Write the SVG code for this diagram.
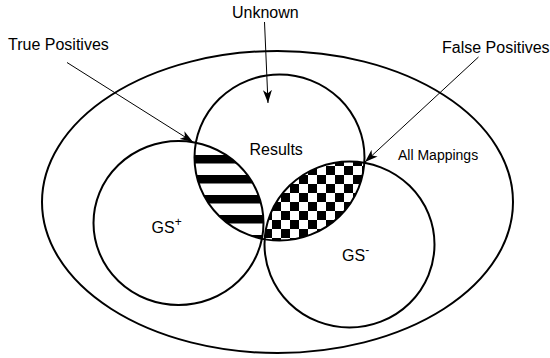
<svg xmlns="http://www.w3.org/2000/svg" width="550" height="358" viewBox="0 0 550 358">
<style>
.set{fill:none;stroke:#000;stroke-width:2}
.lbl{font-family:"Liberation Sans",Arial,sans-serif;font-size:16px;fill:#000}
.sm{font-size:14px}
.conn{stroke:#000;stroke-width:1;fill:none;marker-end:url(#arr)}
</style>
<defs>
<marker id="arr" markerUnits="userSpaceOnUse" markerWidth="14" markerHeight="10" refX="13" refY="5" orient="auto">
<path d="M0,0.5 L13,5 L0,9.5 L3.5,5 Z" fill="#000"/>
</marker>
<pattern id="stripes" patternUnits="userSpaceOnUse" x="0" y="155" width="20" height="20">
<rect x="0" y="0" width="20" height="8.5" fill="#000"/>
</pattern>
<pattern id="checker" patternUnits="userSpaceOnUse" x="290" y="166" width="18" height="18">
<rect width="18" height="18" fill="#fff"/>
<rect x="0" y="0" width="9" height="9" fill="#000"/>
<rect x="9" y="9" width="9" height="9" fill="#000"/>
</pattern>
<clipPath id="clipGSp"><ellipse cx="178.5" cy="223" rx="85" ry="82"/></clipPath>
<clipPath id="clipGSm"><ellipse cx="349.5" cy="244.5" rx="85" ry="83"/></clipPath>
</defs>
<g id="all-mappings">
<ellipse class="set" cx="277.5" cy="202" rx="235.5" ry="151"/>
<text class="lbl sm" x="398" y="160">All Mappings</text>
</g>
<g id="true-positives-region">
<ellipse cx="279.5" cy="157.5" rx="85" ry="83" fill="url(#stripes)" clip-path="url(#clipGSp)"/>
</g>
<g id="false-positives-region">
<ellipse cx="279.5" cy="157.5" rx="85" ry="83" fill="url(#checker)" clip-path="url(#clipGSm)"/>
</g>
<g id="gs-plus">
<ellipse class="set" cx="178.5" cy="223" rx="85" ry="82"/>
<text class="lbl" x="151.5" y="233">GS<tspan font-size="12" dy="-7">+</tspan></text>
</g>
<g id="gs-minus">
<ellipse class="set" cx="349.5" cy="244.5" rx="85" ry="83"/>
<text class="lbl" x="342" y="261">GS<tspan font-size="12" dy="-7">-</tspan></text>
</g>
<g id="results">
<ellipse class="set" cx="279.5" cy="157.5" rx="85" ry="83"/>
<text class="lbl" x="249.5" y="155">Results</text>
</g>
<g id="unknown">
<text class="lbl" x="232" y="18">Unknown</text>
</g>
<g id="true-positives">
<text class="lbl" x="8" y="50">True Positives</text>
</g>
<g id="false-positives">
<text class="lbl" x="442" y="53">False Positives</text>
</g>
<g id="connectors">
<line class="conn" x1="264.5" y1="22" x2="268" y2="103"/>
<line class="conn" x1="67" y1="62.5" x2="193" y2="142"/>
<line class="conn" x1="478.5" y1="57" x2="365" y2="162"/>
</g>
</svg>
